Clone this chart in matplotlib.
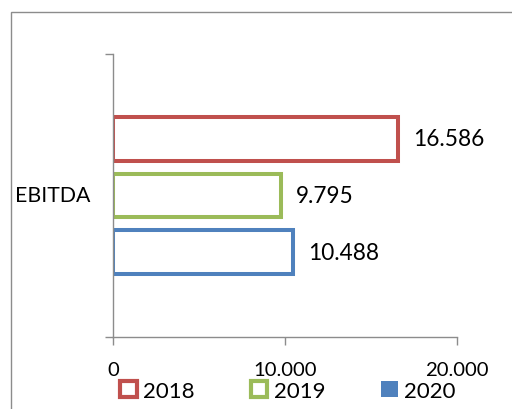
import matplotlib
matplotlib.use("Agg")
import matplotlib.pyplot as plt
from matplotlib.patches import Patch, Rectangle

category = "EBITDA"
years = ["2018", "2019", "2020"]
values = [16586, 9795, 10488]
labels = ["16.586", "9.795", "10.488"]
tick_values = [0, 10000, 20000]
tick_labels = ["0", "10.000", "20.000"]

colors = ["#C0504D", "#9BBB59", "#4F81BD"]
offsets = [0.2, 0.0, -0.2]
bar_h = 0.155

plt.rcParams["font.family"] = ["Lato", "DejaVu Sans"]

W, H = 512, 410
fig = plt.figure(figsize=(W / 100, H / 100), dpi=100)

# outer chart frame
fig.patches.append(Rectangle((11 / W, -0.1), 1.2, 1 - 13 / H + 0.1, transform=fig.transFigure,
                             fill=False, edgecolor="#8c8c8c", linewidth=1.0))

ax = fig.add_axes([113 / W, 1 - 338 / H, (457 - 113) / W, (338 - 55) / H])

for v, off, c, lab in zip(values, offsets, colors, labels):
    ax.barh(off, v, height=bar_h, facecolor="white", edgecolor=c, linewidth=2.9)
    ax.text(v + 850, off, lab, va="center", ha="left", fontsize=16.3, color="#000000")

ax.set_xlim(0, 20000)
ax.set_ylim(-0.5, 0.5)
ax.set_xticks(tick_values)
ax.set_xticklabels(tick_labels, fontsize=14.6)
ax.set_yticks([-0.5, 0.5])
ax.set_yticklabels([])
ax.tick_params(axis="x", direction="out", length=6, width=1, color="#8c8c8c", pad=11)
ax.tick_params(axis="y", direction="out", length=6, width=1, color="#8c8c8c")
for s in ["top", "right"]:
    ax.spines[s].set_visible(False)
for s in ["left", "bottom"]:
    ax.spines[s].set_color("#8c8c8c")
    ax.spines[s].set_linewidth(1.0)

fig.text(15 / W, 1 - 196 / H, category, ha="left", va="center", fontsize=15.3)

handles = [Patch(facecolor="white", edgecolor=colors[0], linewidth=3.0),
           Patch(facecolor="white", edgecolor=colors[1], linewidth=3.0),
           Patch(facecolor=colors[2], edgecolor=colors[2], linewidth=0)]
fig.legend(handles, years, loc="center left", bbox_to_anchor=(120 / W, 1 - 392 / H),
           ncol=3, frameon=False, fontsize=16, handlelength=0.75, handleheight=0.75,
           handletextpad=0.3, columnspacing=2.5, borderpad=0, borderaxespad=0)

fig.savefig("out.png", dpi=100)
